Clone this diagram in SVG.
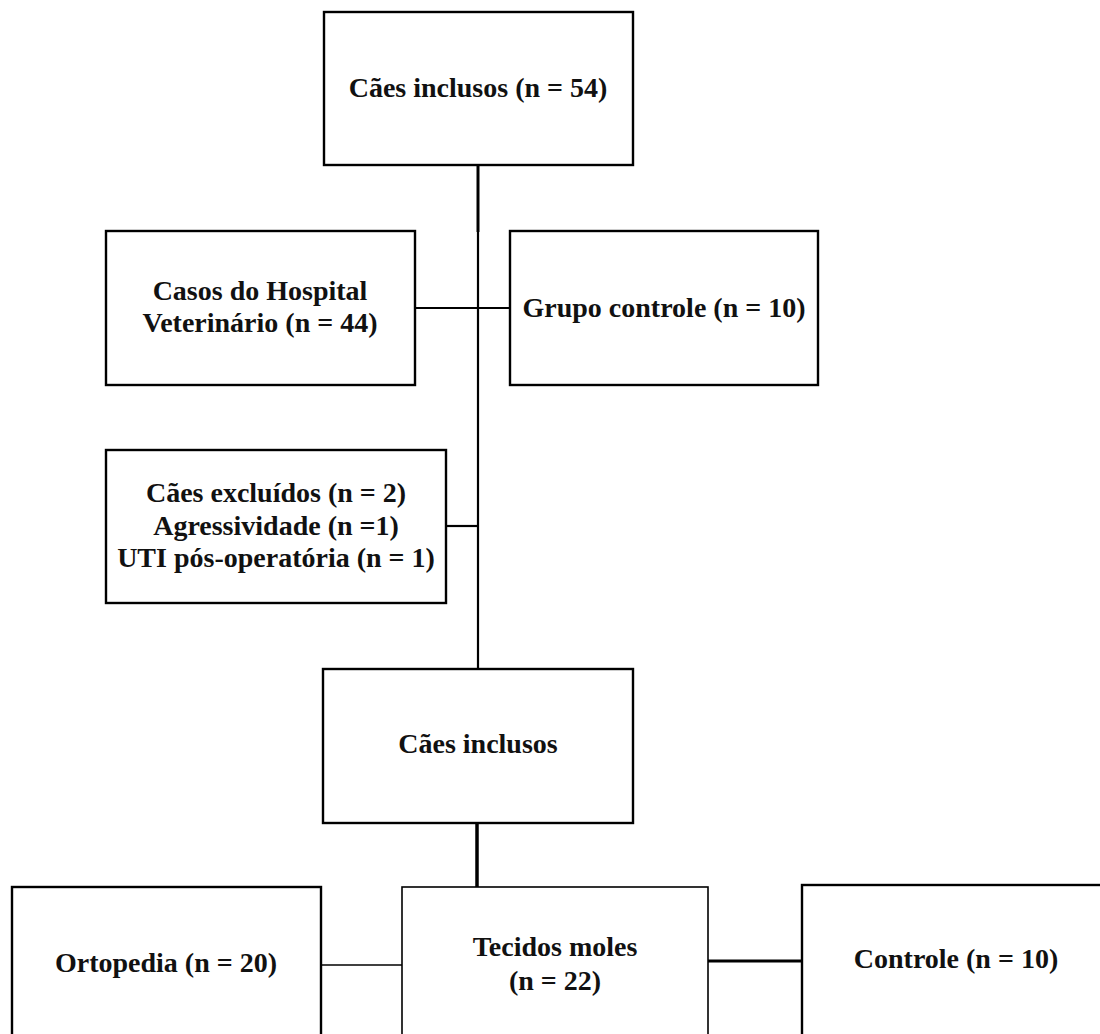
<svg xmlns="http://www.w3.org/2000/svg" width="1100" height="1034" viewBox="0 0 1100 1034">
<style>
.box{fill:#fff;stroke:#000;stroke-width:2.4}
.t{font-family:"Liberation Serif","Times New Roman",serif;font-weight:bold;font-size:28px;fill:#111;text-anchor:middle}
.c{stroke:#000;fill:none;stroke-width:2.2}
</style>
<rect width="1100" height="1034" fill="#fff"/>
<g id="connectors">
<line class="c" x1="478" y1="165" x2="478" y2="232" style="stroke-width:3"/>
<line class="c" x1="478" y1="232" x2="478" y2="669"/>
<line class="c" x1="415" y1="308" x2="510" y2="308"/>
<line class="c" x1="446" y1="526" x2="478" y2="526"/>
<line class="c" x1="477" y1="823" x2="477" y2="888" style="stroke-width:3.5"/>
<line class="c" x1="321" y1="965" x2="402" y2="965" style="stroke-width:1.5"/>
<line class="c" x1="708" y1="961" x2="802" y2="961" style="stroke-width:3"/>
</g>
<g id="n1"><rect class="box" x="324" y="12" width="309" height="153"/><text class="t" x="478" y="97">Cães inclusos (n = 54)</text></g>
<g id="n2"><rect class="box" x="106" y="231" width="309" height="154"/><text class="t" x="260" y="300">Casos do Hospital</text><text class="t" x="260" y="332">Veterinário (n = 44)</text></g>
<g id="n3"><rect class="box" x="510" y="231" width="308" height="154"/><text class="t" x="664" y="317">Grupo controle (n = 10)</text></g>
<g id="n4"><rect class="box" x="106" y="450" width="340" height="153"/><text class="t" x="276" y="502">Cães excluídos (n = 2)</text><text class="t" x="276" y="535">Agressividade (n =1)</text><text class="t" x="276" y="567">UTI pós-operatória (n = 1)</text></g>
<g id="n5"><rect class="box" x="323" y="669" width="310" height="154"/><text class="t" x="478" y="753">Cães inclusos</text></g>
<g id="n6"><rect class="box" x="12" y="887" width="309" height="160"/><text class="t" x="166" y="972">Ortopedia (n = 20)</text></g>
<g id="n7"><rect class="box" x="402" y="887" width="306" height="160" style="stroke-width:1.6"/><text class="t" x="555" y="956">Tecidos moles</text><text class="t" x="555" y="990">(n = 22)</text></g>
<g id="n8"><rect class="box" x="802" y="885" width="310" height="160"/><text class="t" x="956" y="968">Controle (n = 10)</text></g>
</svg>
